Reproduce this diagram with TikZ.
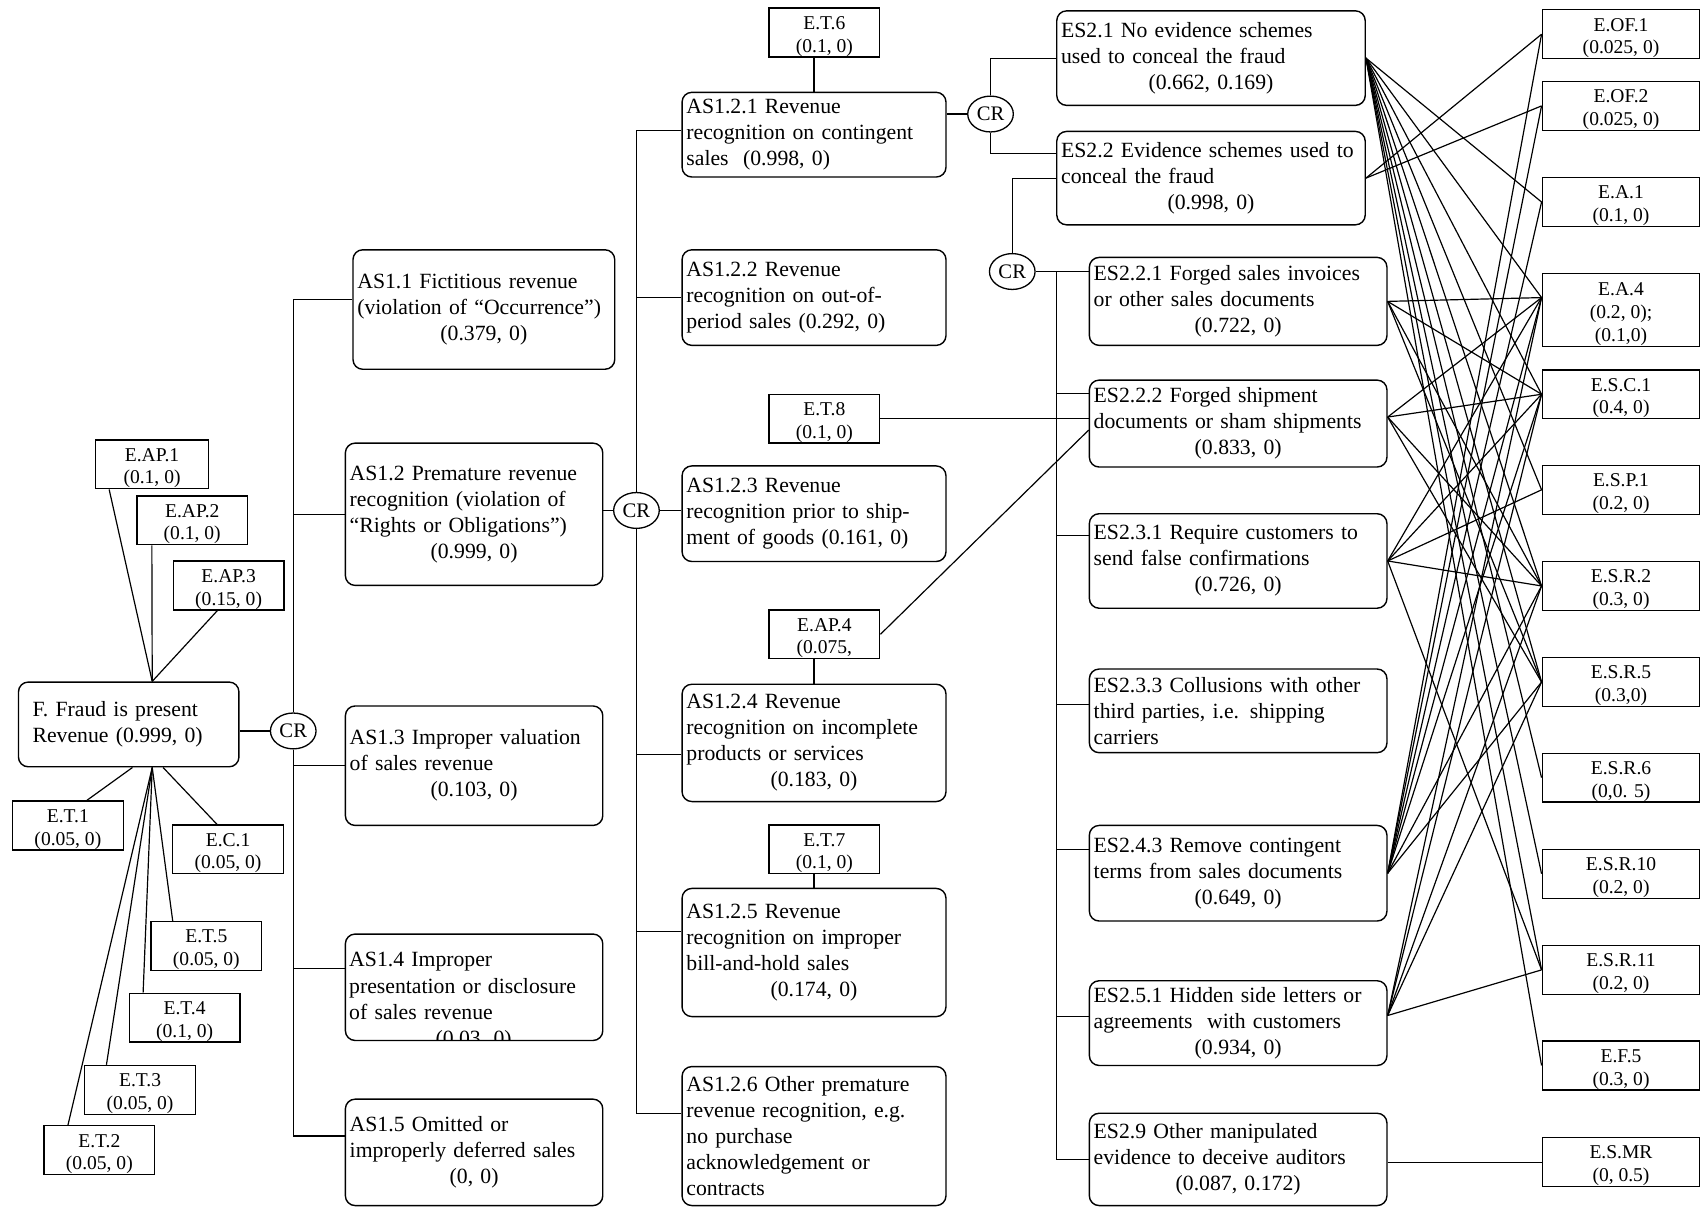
\documentclass[tikz,border=0pt]{standalone}
\usepackage{fontspec}
\setmainfont{Liberation Serif}
\usetikzlibrary{calc, shapes.geometric}
\newcommand{\midval}[1]{\makebox[\hsize]{#1}}
\newcommand{\up}{\rule{0pt}{19pt}}

\begin{document}
\begin{tikzpicture}[x=1pt, y=-1pt,
  sbox/.style={draw, line width=1.3pt, rounded corners=9pt, align=left, inner sep=0pt,
               font=\fontsize{20}{24}\selectfont},
  lvl1/.style={sbox, minimum width=237pt, text width=229pt},
  lvl2/.style={sbox, minimum width=243pt, text width=235pt},
  lvl3/.style={sbox, minimum width=274pt, text width=266pt},
  ebox/.style={draw, line width=1.3pt, align=center, inner sep=0pt, minimum width=102pt,
               minimum height=45pt, font=\fontsize{18}{21}\selectfont},
  rbox/.style={ebox, minimum width=145pt},
  cr/.style={draw, ellipse, line width=1.2pt, minimum width=42pt, minimum height=33pt,
             inner sep=0pt, font=\fontsize{19}{20}\selectfont},
  link/.style={line width=1.1pt},
]
  \useasboundingbox (0,0) rectangle (1568,1113);

  % root and its evidence
  \node[ebox, minimum width=104pt] (eap1) at (140,427.5) {\up E.AP.1\\(0.1, 0)};
  \node[ebox] (eap2) at (177,479) {\up E.AP.2\\(0.1, 0)};
  \node[ebox] (eap3) at (210.5,539) {\up E.AP.3\\(0.15, 0)};
  \node[sbox, minimum width=203pt, minimum height=78pt, text width=177pt] (fraud) at (118.5,667)
    {F. Fraud is present\\Revenue (0.999, 0)};
  \node[cr] (cr1) at (270,673) {CR};
  \node[ebox] (et1) at (62.5,760) {\up E.T.1\\(0.05, 0)};
  \node[ebox] (ec1) at (210,782) {\up E.C.1\\(0.05, 0)};
  \node[ebox] (et5) at (190,871) {\up E.T.5\\(0.05, 0)};
  \node[ebox] (et4) at (170,937) {\up E.T.4\\(0.1, 0)};
  \node[ebox] (et3) at (129,1003.5) {\up E.T.3\\(0.05, 0)};
  \node[ebox] (et2) at (91.5,1059) {\up E.T.2\\(0.05, 0)};

  \coordinate (ftop) at ($(fraud.north west)!.606!(fraud.north east)$);
  \coordinate (fbot) at ($(fraud.south west)!.606!(fraud.south east)$);
  \draw[link] ($(eap1.south west)!.125!(eap1.south east)$) -- (ftop);
  \draw[link] ($(eap2.south west)!.14!(eap2.south east)$) -- (ftop);
  \draw[link] ($(eap3.south west)!.4!(eap3.south east)$) -- (ftop);
  \draw[link] ($(et1.north west)!.67!(et1.north east)$) -- ($(fraud.south west)!.517!(fraud.south east)$);
  \draw[link] ($(ec1.north west)!.4!(ec1.north east)$) -- ($(fraud.south west)!.655!(fraud.south east)$);
  \foreach \n/\f in {et5/.2, et4/.13, et3/.2, et2/.22}
    \draw[link] ($(\n.north west)!\f!(\n.north east)$) -- (fbot);

  % assertion level
  \node[lvl1, minimum width=241pt, text width=233pt, minimum height=110pt] (as11) at (445.5,285)
    {AS1.1 Fictitious revenue\\(violation of “Occurrence”)\\\midval{(0.379, 0)}};
  \node[lvl1, minimum height=131pt] (as12) at (436.5,473.5)
    {AS1.2 Premature revenue\\recognition (violation of\\“Rights or Obligations”)\\\midval{(0.999, 0)}};
  \node[lvl1, minimum height=110pt] (as13) at (436.5,705)
    {AS1.3 Improper valuation\\of sales revenue\\\midval{(0.103, 0)}};
  \node[lvl1, minimum height=98pt] (as14) at (436.5,909) {};
  \begin{scope}
    \clip (as14.north west) rectangle ([yshift=1.5pt]as14.south east);
    \node[anchor=north west, align=left, text width=229pt, inner sep=0pt,
          font=\fontsize{20}{24}\selectfont] (as14t) at ([xshift=4pt,yshift=-17.5pt]as14.north west)
      {AS1.4 Improper\\presentation or disclosure\\of sales revenue\\\midval{(0.03, 0)}};
  \end{scope}
  \node[lvl1, minimum height=98pt] (as15) at (436.5,1061)
    {AS1.5 Omitted or\\improperly deferred sales\\\midval{(0, 0)}};

  \draw[link] (cr1.west) -- (cr1.west -| fraud.east);
  \draw[link] ([yshift=9pt]as11.west) -| (cr1.north);
  \draw[link] (as12.west) -| (cr1.north);
  \draw[link] (as13.west) -| (cr1.south);
  \draw[link] ([yshift=17pt]as14.west) -| (cr1.south);
  \draw[link] ([yshift=15pt]as15.west) -| (cr1.south);

  % premature recognition sub-assertions
  \node[cr] (cr2) at (586,470) {CR};
  \node[lvl2, minimum height=78pt] (as121) at (749.5,124)
    {AS1.2.1 Revenue\\recognition on contingent\\sales~ (0.998, 0)};
  \node[lvl2, minimum height=88pt] (as122) at (749.5,274)
    {AS1.2.2 Revenue\\recognition on out-of-\\period sales (0.292, 0)};
  \node[lvl2, minimum height=88pt] (as123) at (749.5,473)
    {AS1.2.3 Revenue\\recognition prior to ship-\\ment of goods (0.161, 0)};
  \node[lvl2, minimum height=108pt] (as124) at (749.5,684)
    {AS1.2.4 Revenue\\recognition on incomplete\\products or services\\\midval{(0.183, 0)}};
  \node[lvl2, minimum height=118pt] (as125) at (749.5,877)
    {AS1.2.5 Revenue\\recognition on improper\\bill-and-hold sales\\\midval{(0.174, 0)}};
  \node[lvl2, minimum height=128pt] (as126) at (749.5,1046)
    {AS1.2.6 Other premature\\revenue recognition, e.g.\\no purchase\\acknowledgement or\\contracts};

  \node[ebox] (et6) at (759,30) {\up E.T.6\\(0.1, 0)};
  \node[ebox] (et8) at (759,385.5) {\up E.T.8\\(0.1, 0)};
  \node[ebox] (eap4) at (759,584) {\up E.AP.4\\(0.075,};
  \node[ebox] (et7) at (759,782) {\up E.T.7\\(0.1, 0)};

  \draw[link] (cr2.west) -- (cr2.west -| as12.east);
  \draw[link] ([yshift=4pt]as121.west) -| (cr2.north);
  \draw[link] (as122.west) -| (cr2.north);
  \draw[link] (cr2.east) -- (cr2.east -| as123.west);
  \draw[link] ([yshift=-11pt]as124.west) -| (cr2.south);
  \draw[link] ([yshift=19pt]as125.west) -| (cr2.south);
  \draw[link] ([yshift=21pt]as126.west) -| (cr2.south);
  \draw[link] (as121.north) -- (as121.north |- et6.south);
  \draw[link] (as124.north) -- (as124.north |- eap4.south);
  \draw[link] (as125.north) -- (as125.north |- et7.south);

  % evidence schemes
  \node[cr] (cr3) at (912,105) {CR};
  \node[cr] (cr4) at (932,250) {CR};
  \node[lvl3, minimum width=284pt, text width=276pt, minimum height=87pt] (es21) at (1115,53.5)
    {ES2.1 No evidence schemes\\used to conceal the fraud\\\midval{(0.662, 0.169)}};
  \node[lvl3, minimum width=284pt, text width=276pt, minimum height=86pt] (es22) at (1115,164)
    {ES2.2 Evidence schemes used to\\conceal the fraud\\\midval{(0.998, 0)}};
  \node[lvl3, minimum height=81pt] (es221) at (1140,277.5)
    {ES2.2.1 Forged sales invoices\\or other sales documents\\\midval{(0.722, 0)}};
  \node[lvl3, minimum height=80pt] (es222) at (1140,390)
    {ES2.2.2 Forged shipment\\documents or sham shipments\\\midval{(0.833, 0)}};
  \node[lvl3, minimum height=87pt] (es231) at (1140,516.5)
    {ES2.3.1 Require customers to\\send false confirmations\\\midval{(0.726, 0)}};
  \node[lvl3, minimum height=77pt] (es233) at (1140,654.5)
    {ES2.3.3 Collusions with other\\third parties, i.e. shipping\\carriers};
  \node[lvl3, minimum height=88pt] (es243) at (1140,804)
    {ES2.4.3 Remove contingent\\terms from sales documents\\\midval{(0.649, 0)}};
  \node[lvl3, minimum height=78pt] (es251) at (1140,942)
    {ES2.5.1 Hidden side letters or\\agreements~ with customers\\\midval{(0.934, 0)}};
  \node[lvl3, minimum height=85pt] (es29) at (1140,1067.5)
    {ES2.9 Other manipulated\\evidence to deceive auditors\\\midval{(0.087, 0.172)}};

  \draw[link] (cr3.west) -- (cr3.west -| as121.east);
  \draw[link] (cr3.north) |- (es21.west);
  \draw[link] (cr3.south) |- ([yshift=23pt]es22.west);
  \draw[link] (es22.west) -| (cr4.north);
  \draw[link] (cr4.east) -- ([yshift=27.5pt]es221.west);
  \coordinate (j4) at ($(cr4.east)!.4!([yshift=27.5pt]es221.west)$);
  \draw[link] ([yshift=28pt]es222.west) -| (j4);
  \draw[link] ([yshift=23.5pt]es231.west) -| (j4);
  \draw[link] ([yshift=5.5pt]es233.west) -| (j4);
  \draw[link] ([yshift=22pt]es243.west) -| (j4);
  \draw[link] ([yshift=6pt]es251.west) -| (j4);
  \draw[link] (es29.west) -| (j4);
  \draw[link] (et8.east) -- (et8.east -| es222.west);
  \draw[link] (eap4.east) -- ([yshift=-6pt]es222.west);

  % evidence column
  \node[rbox] (eof1) at (1492.5,31.5) {\up E.OF.1\\(0.025, 0)};
  \node[rbox] (eof2) at (1492.5,97.5) {\up E.OF.2\\(0.025, 0)};
  \node[rbox] (ea1) at (1492.5,186) {\up E.A.1\\(0.1, 0)};
  \node[rbox, minimum height=67pt] (ea4) at (1492.5,285.5) {\up E.A.4\\(0.2, 0);\\(0.1,0)};
  \node[rbox] (esc1) at (1492.5,363) {\up E.S.C.1\\(0.4, 0)};
  \node[rbox] (esp1) at (1492.5,451) {\up E.S.P.1\\(0.2, 0)};
  \node[rbox] (esr2) at (1492.5,539.5) {\up E.S.R.2\\(0.3, 0)};
  \node[rbox] (esr5) at (1492.5,628) {\up E.S.R.5\\(0.3,0)};
  \node[rbox] (esr6) at (1492.5,716) {\up E.S.R.6\\(0,0. 5)};
  \node[rbox] (esr10) at (1492.5,804.5) {\up E.S.R.10\\(0.2, 0)};
  \node[rbox] (esr11) at (1492.5,893) {\up E.S.R.11\\(0.2, 0)};
  \node[rbox] (ef5) at (1492.5,981) {\up E.F.5\\(0.3, 0)};
  \node[rbox] (esmr) at (1492.5,1070) {\up E.S.MR\\(0, 0.5)};

  \coordinate (i4) at ([yshift=11.5pt]ea4.west);
  \coordinate (o222) at ([yshift=6pt]es222.east);
  \coordinate (o251) at ([yshift=7pt]es251.east);
  \foreach \e in {ea1.west, i4, esc1.west, esp1.west, esr2.west, esr5.west, esr6.west, esr10.west, esr11.west, ef5.west}
    \draw[link] (es21.east) -- (\e);
  \foreach \e in {eof1.west, eof2.west}
    \draw[link] (es22.east) -- (\e);
  \foreach \e in {i4, esc1.west, esr2.west, esr5.west}
    \draw[link] (es221.east) -- (\e);
  \foreach \e in {i4, esc1.west, esr2.west, esr5.west}
    \draw[link] (o222) -- (\e);
  \foreach \e in {i4, esc1.west, esp1.west, esr2.west, esr11.west}
    \draw[link] (es231.east) -- (\e);
  \foreach \e in {eof1.west, eof2.west, ea1.west, i4, esc1.west, esr2.west, esr5.west}
    \draw[link] (es243.east) -- (\e);
  \foreach \e in {i4, esc1.west, esr2.west, esr5.west, esr11.west}
    \draw[link] (o251) -- (\e);
  \draw[link] (esmr.west -| es29.east) -- (esmr.west);
\end{tikzpicture}
\end{document}
